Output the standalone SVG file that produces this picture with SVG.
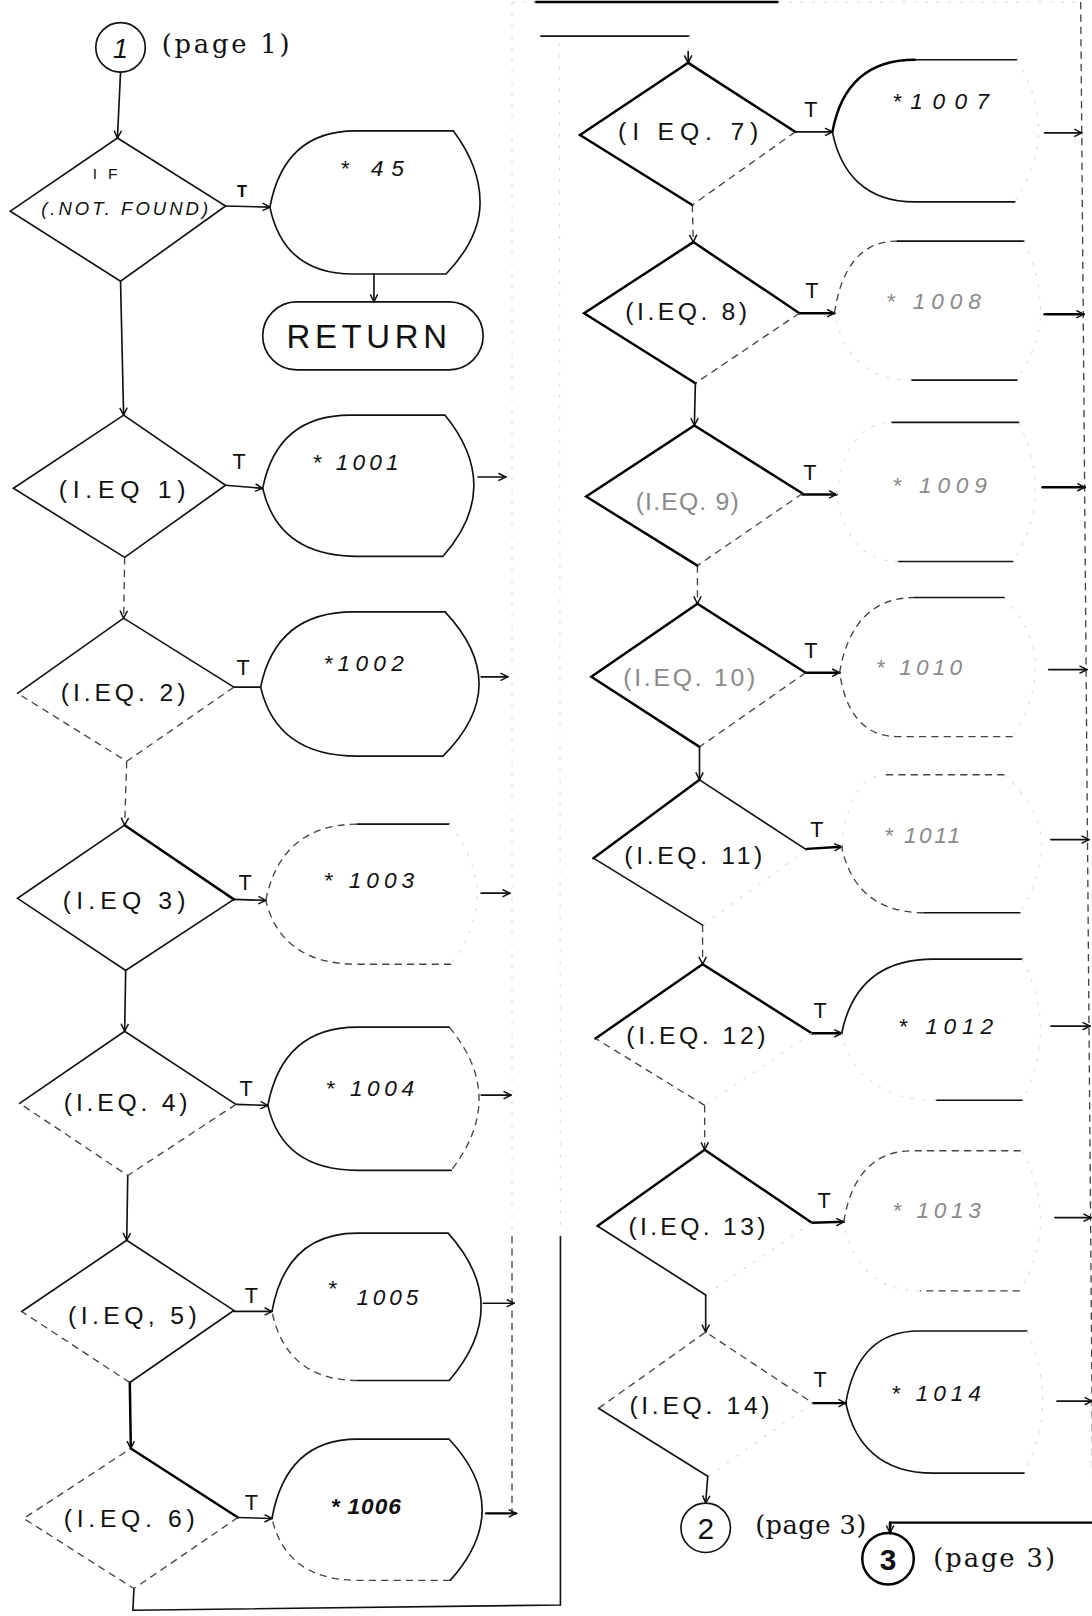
<svg xmlns="http://www.w3.org/2000/svg" width="1092" height="1616" viewBox="0 0 1092 1616">
<style>
.s{fill:none;stroke:#111;stroke-width:1.6;stroke-linecap:round}
.b{fill:none;stroke:#000;stroke-width:2.4;stroke-linecap:round}
.d{fill:none;stroke:#444;stroke-width:1.3;stroke-dasharray:7 5}
.f{fill:none;stroke:#dadada;stroke-width:1;stroke-dasharray:3 8}
.hw{font-family:"Liberation Sans",Arial,sans-serif;fill:#111}
.lab{font-size:24px}
.it{font-style:italic}
.dl{font-size:22px;font-style:italic}
.tt{font-size:21px;text-anchor:middle}
.faint{fill:#8a8a8a}
.pr{font-family:"DejaVu Serif","Liberation Serif",serif;font-size:25px;fill:#111}
.arr{marker-end:url(#ah)}
</style>
<defs>
<marker id="ah" viewBox="0 0 10 10" refX="9" refY="5" markerWidth="9" markerHeight="9" markerUnits="userSpaceOnUse" orient="auto"><path d="M1,1 L9,5 L1,9" fill="none" stroke="#111" stroke-width="1.6"/></marker>
</defs>
<rect width="1092" height="1616" fill="#fff"/>
<g transform="scale(1.0302)">
<g id="connectors">
<line class="s arr" x1="117" y1="70" x2="114" y2="134"/>
<line class="s arr" x1="219" y1="200" x2="262" y2="201"/>
<line class="s arr" x1="363" y1="266" x2="363" y2="293"/>
<line class="s arr" x1="117" y1="273" x2="120" y2="403"/>
<line class="s arr" x1="219" y1="471" x2="255" y2="474"/>
<line class="d arr" x1="121" y1="541" x2="120" y2="600"/>
<line class="s" x1="227" y1="667" x2="253" y2="667"/>
<line class="d arr" x1="123" y1="739" x2="121" y2="801"/>
<line class="s arr" x1="227" y1="873" x2="258" y2="874"/>
<line class="s arr" x1="122" y1="942" x2="121" y2="1001"/>
<line class="s arr" x1="229" y1="1072" x2="260" y2="1073"/>
<line class="s arr" x1="124" y1="1141" x2="123" y2="1204"/>
<line class="s arr" x1="227" y1="1273" x2="264" y2="1273"/>
<line class="b arr" x1="126" y1="1342" x2="127" y2="1406"/>
<line class="s arr" x1="231" y1="1473" x2="264" y2="1474"/>
<polyline class="s" points="130,1542 129,1563 544,1558 544,1200"/>
<line class="f" x1="544" y1="1200" x2="543" y2="35"/>
<line class="s" x1="525" y1="35" x2="669" y2="35"/>
<line class="f" x1="669" y1="35" x2="668" y2="52"/>
<line class="s arr" x1="668" y1="50" x2="668" y2="61"/>
<line class="b" x1="520" y1="2" x2="755" y2="2"/>
<line class="f" x1="755" y1="2" x2="1049" y2="2"/>
<line class="f" x1="497" y1="2" x2="520" y2="2"/>
<line class="f" x1="497" y1="2" x2="497" y2="1200"/>
<line class="d" x1="497" y1="1200" x2="497" y2="1469"/>
<line class="s arr" x1="464" y1="463" x2="491" y2="463"/>
<line class="s arr" x1="467" y1="657" x2="493" y2="657"/>
<line class="s arr" x1="467" y1="867" x2="495" y2="867"/>
<line class="s arr" x1="467" y1="1063" x2="496" y2="1063"/>
<line class="s arr" x1="469" y1="1265" x2="499" y2="1265"/>
<line class="b arr" x1="472" y1="1469" x2="501" y2="1469"/>
<line class="s arr" x1="772" y1="128" x2="808" y2="128"/>
<line class="d arr" x1="672" y1="199" x2="673" y2="235"/>
<line class="b arr" x1="776" y1="304" x2="810" y2="304"/>
<line class="s arr" x1="675" y1="372" x2="674" y2="413"/>
<line class="b arr" x1="779" y1="480" x2="812" y2="480"/>
<line class="d arr" x1="677" y1="549" x2="677" y2="586"/>
<line class="b arr" x1="782" y1="653" x2="815" y2="653"/>
<line class="s arr" x1="679" y1="725" x2="679" y2="757"/>
<line class="b arr" x1="783" y1="824" x2="817" y2="822"/>
<line class="d arr" x1="682" y1="898" x2="682" y2="936"/>
<line class="b arr" x1="788" y1="1003" x2="817" y2="1003"/>
<line class="d arr" x1="684" y1="1073" x2="684" y2="1116"/>
<line class="b arr" x1="788" y1="1187" x2="819" y2="1186"/>
<line class="s arr" x1="685" y1="1257" x2="685" y2="1293"/>
<line class="b arr" x1="789" y1="1362" x2="821" y2="1362"/>
<line class="s arr" x1="687" y1="1433" x2="685" y2="1459"/>
<line class="d" x1="1049" y1="2" x2="1061" y2="1478"/>
<line class="s arr" x1="1014" y1="129" x2="1050" y2="129"/>
<line class="b arr" x1="1014" y1="305" x2="1052" y2="305"/>
<line class="b arr" x1="1012" y1="473" x2="1053" y2="473"/>
<line class="s arr" x1="1018" y1="650" x2="1055" y2="650"/>
<line class="s arr" x1="1020" y1="815" x2="1057" y2="815"/>
<line class="s arr" x1="1020" y1="996" x2="1058" y2="996"/>
<line class="s arr" x1="1024" y1="1182" x2="1059" y2="1182"/>
<line class="s arr" x1="1026" y1="1360" x2="1060" y2="1360"/>
<polyline class="b" points="1061,1478 864,1478 864,1482"/>
<line class="b arr" x1="864" y1="1478" x2="864" y2="1488"/>
</g>

<g id="n-c1">
<circle class="s" cx="117" cy="46" r="24"/>
<text class="hw it" x="117" y="56" font-size="26" text-anchor="middle">1</text>
<text class="pr" x="157" y="51" textLength="124" lengthAdjust="spacing">(page 1)</text>
</g>

<g id="n-if">
<polygon class="s" points="114,134 219,200 117,273 10,205"/>
<text class="hw" x="90" y="174" font-size="15" textLength="24" lengthAdjust="spacing">IF</text>
<text class="hw it" x="40" y="209" font-size="18" textLength="162" lengthAdjust="spacing">(.NOT. FOUND)</text>
<text class="hw" x="235" y="191" font-size="16" font-weight="bold" text-anchor="middle">T</text>
</g>

<g id="n-45">
<path class="s" d="M262,201 C270.3,156.6 295.2,127 345,127 L440,127 Q466,161.75 466,196.5 Q466,231.25 433,266 L343,266 C294.4,266 270.1,240 262,201 Z"/>
<text class="hw dl" x="330" y="171" textLength="62" lengthAdjust="spacing">* 45</text>
</g>

<g id="n-return">
<rect class="s" x="255" y="293" width="214" height="66" rx="33" ry="33"/>
<text class="hw" x="278" y="338" font-size="32" textLength="156" lengthAdjust="spacing">RETURN</text>
</g>

<g id="n-d1">
<polygon class="s" points="120,403 219,471 121,541 13,474"/>
<text class="hw lab" x="57" y="483" textLength="123" lengthAdjust="spacing">(I.EQ 1)</text>
<text class="hw tt" x="232" y="455">T</text>
</g>
<g id="n-1001">
<path class="s" d="M255,474 C263.5,431.4 289,403 340,403 L432,403 Q460,437.25 460,471.5 Q460,505.75 430,540 L347,540 C291.8,540 264.2,513.6 255,474 Z"/>
<text class="hw dl" x="303" y="456" textLength="84" lengthAdjust="spacing">* 1001</text>
</g>

<g id="n-d2">
<path class="s" d="M17,673 L120,600 L227,667"/>
<path class="d" d="M227,667 L123,739 L17,673"/>
<text class="hw lab" x="59" y="680" textLength="121" lengthAdjust="spacing">(I.EQ. 2)</text>
<text class="hw tt" x="236" y="655">T</text>
</g>
<g id="n-1002">
<path class="s" d="M253,667 C262,623.2 289,594 343,594 L432,594 Q465,629 465,664 Q465,699 430,734 L347,734 C290.6,734 262.4,707.2 253,667 Z"/>
<text class="hw dl" x="314" y="651" textLength="78" lengthAdjust="spacing">*1002</text>
</g>

<g id="n-d3">
<path class="s" d="M227,873 L122,942 L17,872 L121,801"/>
<path class="b" d="M121,801 L227,873"/>
<text class="hw lab" x="61" y="882" textLength="119" lengthAdjust="spacing">(I.EQ 3)</text>
<text class="hw tt" x="238" y="864">T</text>
</g>
<g id="n-1003">
<path class="d" d="M258,874 C266.9,829.6 293.6,800 347,800"/>
<path class="s" d="M347,800 L436,800"/>
<path class="f" d="M436,800 Q463,834 463,868 Q463,902 438,936"/>
<path class="d" d="M438,936 L347,936 C293.6,936 266.9,911.2 258,874"/>
<text class="hw dl" x="314" y="862" textLength="88" lengthAdjust="spacing">* 1003</text>
</g>

<g id="n-d4">
<path class="s" d="M19,1071 L121,1001 L229,1072"/>
<path class="d" d="M229,1072 L124,1141 L19,1071"/>
<text class="hw lab" x="62" y="1078" textLength="120" lengthAdjust="spacing">(I.EQ. 4)</text>
<text class="hw tt" x="239" y="1064">T</text>
</g>
<g id="n-1004">
<path class="s" d="M260,1073 C268.7,1027.4 294.8,997 347,997 L436,997"/>
<path class="d" d="M436,997 Q465,1031.75 465,1066.5 Q465,1101.25 438,1136"/>
<path class="s" d="M438,1136 L347,1136 C294.8,1136 268.7,1110.8 260,1073"/>
<text class="hw dl" x="316" y="1064" textLength="86" lengthAdjust="spacing">* 1004</text>
</g>

<g id="n-d5">
<path class="s" d="M21,1273 L123,1204 L227,1272 L126,1342"/>
<path class="d" d="M126,1342 L21,1273"/>
<text class="hw lab" x="66" y="1285" textLength="125" lengthAdjust="spacing">(I.EQ, 5)</text>
<text class="hw tt" x="244" y="1265">T</text>
</g>
<g id="n-1005">
<path class="s" d="M264,1273 C272.3,1227.4 297.2,1197 347,1197 L435,1197 Q467,1232.75 467,1268.5 Q467,1304.25 436,1340 L347,1340"/>
<path class="d" d="M347,1340 C297.2,1340 272.3,1313.2 264,1273"/>
<text class="hw dl" x="318" y="1258" font-size="26">*</text>
<text class="hw dl" x="346" y="1267" textLength="60" lengthAdjust="spacing">1005</text>
</g>

<g id="n-d6">
<path class="b" d="M127,1406 L231,1473"/>
<path class="d" d="M231,1473 L130,1542 L23,1474 L127,1406"/>
<text class="hw lab" x="62" y="1482" textLength="127" lengthAdjust="spacing">(I.EQ. 6)</text>
<text class="hw tt" x="244" y="1466">T</text>
</g>
<g id="n-1006">
<path class="s" d="M264,1474 C272.3,1427.8 297.2,1397 347,1397 L436,1397 Q468,1431.25 468,1465.5 Q468,1499.75 437,1534"/>
<path class="d" d="M437,1534 L347,1534 C297.2,1534 272.3,1510 264,1474"/>
<text class="hw dl" x="321" y="1470" font-weight="bold" textLength="68" lengthAdjust="spacing">* 1006</text>
</g>

<g id="n-d7">
<path class="b" d="M672,199 L563,131 L668,61 L772,128"/>
<path class="d" d="M772,128 L672,199"/>
<text class="hw lab" x="600" y="136" textLength="136" lengthAdjust="spacing">(I EQ. 7)</text>
<text class="hw tt" x="787" y="114">T</text>
</g>
<g id="n-1007">
<path class="b" d="M808,128 C816,84.8 840,58 888,58"/>
<path class="s" d="M888,58 L987,58"/>
<path class="f" d="M987,58 Q1008,92 1008,126 Q1008,160 985,196"/>
<path class="s" d="M985,196 L888,196 C840,196 816,168 808,128"/>
<text class="hw dl" x="866" y="106" textLength="94" lengthAdjust="spacing">*1007</text>
</g>

<g id="n-d8">
<path class="b" d="M675,372 L567,304 L673,235 L776,304"/>
<path class="d" d="M776,304 L675,372"/>
<text class="hw lab" x="607" y="311" textLength="118" lengthAdjust="spacing">(I.EQ. 8)</text>
<text class="hw tt" x="788" y="289">T</text>
</g>
<g id="n-1008">
<path class="d" d="M810,304 C816.1,262 834.4,234 871,234"/>
<path class="s" d="M871,234 L994,234"/>
<path class="f" d="M994,234 Q1010,267.75 1010,301.5 Q1010,335.25 987,369"/>
<path class="s" d="M987,369 L885,369"/>
<path class="f" d="M885,369 C840,369 817.5,343 810,304"/>
<text class="hw dl faint" x="860" y="300" textLength="92" lengthAdjust="spacing">* 1008</text>
</g>

<g id="n-d9">
<path class="b" d="M677,549 L569,482 L674,413 L779,479"/>
<path class="d" d="M779,479 L677,549"/>
<text class="hw lab faint" x="617" y="495" textLength="100" lengthAdjust="spacing">(I.EQ. 9)</text>
<text class="hw tt" x="786" y="466">T</text>
</g>
<g id="n-1009">
<path class="f" d="M812,480 C817.4,438 833.6,410 866,410"/>
<path class="s" d="M866,410 L989,410"/>
<path class="f" d="M989,410 Q1005,443.75 1005,477.5 Q1005,511.25 983,545"/>
<path class="s" d="M983,545 L872,545"/>
<path class="f" d="M872,545 C836,545 818,519 812,480"/>
<text class="hw dl faint" x="866" y="479" textLength="92" lengthAdjust="spacing">* 1009</text>
</g>

<g id="n-d10">
<path class="b" d="M679,725 L574,657 L677,586 L782,653"/>
<path class="d" d="M782,653 L679,725"/>
<text class="hw lab faint" x="605" y="666" textLength="128" lengthAdjust="spacing">(I.EQ. 10)</text>
<text class="hw tt" x="787" y="639">T</text>
</g>
<g id="n-1010">
<path class="d" d="M815,653 C822.3,609.2 844.2,580 888,580"/>
<path class="s" d="M888,580 L975,580"/>
<path class="f" d="M975,580 Q1005,613.75 1005,647.5 Q1005,681.25 983,715"/>
<path class="d" d="M983,715 L871,715 C837.4,715 820.6,690.2 815,653"/>
<text class="hw dl faint" x="850" y="655" textLength="84" lengthAdjust="spacing">* 1010</text>
</g>

<g id="n-d11">
<path class="b" d="M576,833 L679,757"/>
<path class="s" d="M679,757 L783,825"/>
<path class="f" d="M783,825 L682,898"/>
<path class="s" d="M682,898 L576,833"/>
<text class="hw lab" x="606" y="839" textLength="134" lengthAdjust="spacing">(I.EQ. 11)</text>
<text class="hw tt" x="793" y="812">T</text>
</g>
<g id="n-1011">
<path class="f" d="M817,822 C821.3,780 834.2,752 860,752"/>
<path class="d" d="M860,752 L975,752"/>
<path class="f" d="M975,752 Q1011,785.5 1011,819 Q1011,852.5 990,886"/>
<path class="s" d="M990,886 L897,886"/>
<path class="d" d="M897,886 C849,886 825,860.4 817,822"/>
<text class="hw dl faint" x="858" y="818" textLength="74" lengthAdjust="spacing">* 1011</text>
</g>

<g id="n-d12">
<path class="b" d="M578,1008 L682,936 L788,1003"/>
<path class="f" d="M788,1003 L684,1073"/>
<path class="d" d="M684,1073 L578,1008"/>
<text class="hw lab" x="608" y="1013" textLength="135" lengthAdjust="spacing">(I.EQ. 12)</text>
<text class="hw tt" x="796" y="988">T</text>
</g>
<g id="n-1012">
<path class="s" d="M817,1003 C825.9,959.8 852.6,931 906,931 L992,931"/>
<path class="f" d="M992,931 Q1010,965.25 1010,999.5 Q1010,1033.75 992,1068"/>
<path class="s" d="M992,1068 L909,1068"/>
<path class="f" d="M909,1068 C853.8,1068 826.2,1042 817,1003"/>
<text class="hw dl" x="872" y="1004" textLength="92" lengthAdjust="spacing">* 1012</text>
</g>

<g id="n-d13">
<path class="b" d="M580,1190 L684,1116 L788,1187"/>
<path class="f" d="M788,1187 L685,1257"/>
<path class="s" d="M685,1257 L580,1190"/>
<text class="hw lab" x="610" y="1199" textLength="133" lengthAdjust="spacing">(I.EQ. 13)</text>
<text class="hw tt" x="800" y="1173">T</text>
</g>
<g id="n-1013">
<path class="d" d="M819,1186 C825.7,1144.6 845.8,1117 886,1117 L992,1117"/>
<path class="f" d="M992,1117 Q1010,1151 1010,1185 Q1010,1219 990,1253"/>
<path class="d" d="M990,1253 L893,1253"/>
<path class="f" d="M893,1253 C848.6,1253 826.4,1226.2 819,1186"/>
<text class="hw dl faint" x="866" y="1182" textLength="86" lengthAdjust="spacing">* 1013</text>
</g>

<g id="n-d14">
<path class="d" d="M581,1367 L685,1293 L789,1362"/>
<path class="f" d="M789,1362 L687,1433"/>
<path class="s" d="M687,1433 L581,1367"/>
<text class="hw lab" x="611" y="1373" textLength="136" lengthAdjust="spacing">(I.EQ. 14)</text>
<text class="hw tt" x="796" y="1346">T</text>
</g>
<g id="n-1014">
<path class="s" d="M821,1362 C828.1,1320 849.4,1292 892,1292 L997,1292"/>
<path class="f" d="M997,1292 Q1012,1326 1012,1360 Q1012,1394 994,1430"/>
<path class="s" d="M994,1430 L906,1430 C855,1430 829.5,1402 821,1362"/>
<text class="hw dl" x="865" y="1360" textLength="87" lengthAdjust="spacing">* 1014</text>
</g>

<g id="n-c2">
<circle class="s" cx="685" cy="1483" r="24"/>
<text class="hw" x="685" y="1494" font-size="29" text-anchor="middle">2</text>
<text class="pr" x="733" y="1489" textLength="108" lengthAdjust="spacing">(page 3)</text>
</g>

<g id="n-c3">
<circle class="b" cx="862" cy="1513" r="25"/>
<text class="hw" x="862" y="1524" font-size="29" font-weight="bold" text-anchor="middle">3</text>
<text class="pr" x="906" y="1521" textLength="118" lengthAdjust="spacing">(page 3)</text>
</g>
</g>
</svg>
